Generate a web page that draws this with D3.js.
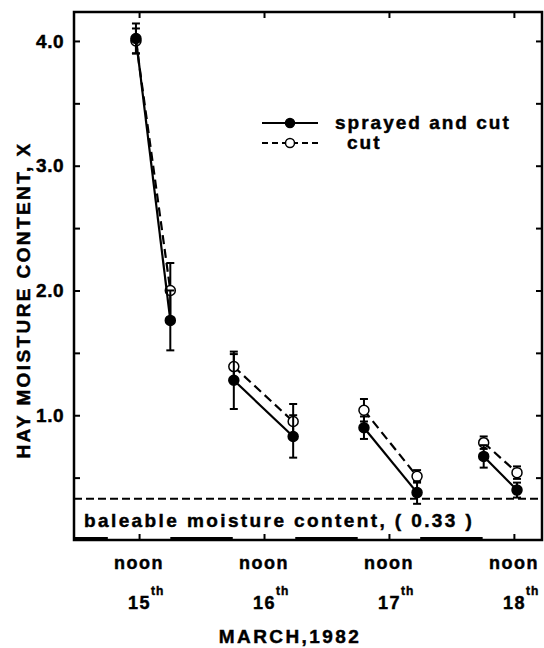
<!DOCTYPE html>
<html>
<head>
<meta charset="utf-8">
<script src="https://cdn.jsdelivr.net/npm/d3@7"></script>
<style>
  body { margin: 0; background: #fff; }
  text { font-family: "Liberation Sans", Arial, sans-serif; font-weight: bold; fill: #000; stroke: #000; stroke-width: 0.45px; }
</style>
</head>
<body>
<script>
// hours after noon, 15 March 1982
const times = [-0.6, 6.0, 18.2, 29.6, 43.2, 53.4, 66.2, 72.6];
const sprayed = [4.02, 1.76, 1.28, 0.83, 0.90, 0.38, 0.67, 0.40];
const sprayedErr = [0.12, 0.24, 0.23, 0.17, 0.09, 0.09, 0.09, 0.06];
const cut = [4.0, 2.0, 1.39, 0.95, 1.04, 0.51, 0.78, 0.54];
const cutErr = [0.10, 0.22, 0.10, 0.14, 0.09, 0.05, 0.05, 0.05];
const noons = [0, 24, 48, 72];
const dayLabels = ["15", "16", "17", "18"];
const nights = [[-18, -6], [6, 18], [30, 42], [54, 66]];
const yTicks = [1, 2, 3, 4];
const yMinor = [0.5, 1.5, 2.5, 3.5];
const baleable = 0.33;

const W = 544, H = 648;
const svg = d3.select("body").append("svg")
  .attr("width", W)
  .attr("height", H);

const x = d3.scaleLinear().domain([-12.5, 77.4]).range([74, 542]);
const y = d3.scaleLinear().domain([0, 4.232]).range([540, 12]);

// frame
svg.append("rect")
  .attr("x", x.range()[0]).attr("y", y.range()[1])
  .attr("width", x.range()[1] - x.range()[0])
  .attr("height", y.range()[0] - y.range()[1])
  .attr("fill", "none").attr("stroke", "#000").attr("stroke-width", 2.5);

// night bars along the bottom
svg.selectAll(".night")
  .data(nights)
  .join("line")
    .attr("x1", d => x(Math.max(d[0], x.domain()[0])))
    .attr("x2", d => x(Math.min(d[1], x.domain()[1])))
    .attr("y1", y(0) - 1).attr("y2", y(0) - 1)
    .attr("stroke", "#000").attr("stroke-width", 4);

// left axis
const left = svg.append("g").attr("transform", `translate(${x.range()[0]},0)`)
  .call(d3.axisLeft(y).tickValues(yTicks).tickSize(-6).tickPadding(10).tickFormat(d3.format(".1f")));
left.select(".domain").remove();
left.selectAll(".tick line").attr("stroke-width", 2);
left.selectAll("text").style("font-size", "19px").style("letter-spacing", "0.5px").attr("font-family", null);
svg.append("g").attr("transform", `translate(${x.range()[0]},0)`)
  .call(d3.axisLeft(y).tickValues(yMinor).tickSize(-6).tickFormat(""))
  .call(g => g.select(".domain").remove())
  .selectAll("line").attr("stroke-width", 2);

// right axis ticks
svg.append("g").attr("transform", `translate(${x.range()[1]},0)`)
  .call(d3.axisRight(y).tickValues(yTicks.concat(yMinor)).tickSize(-6).tickFormat(""))
  .call(g => g.select(".domain").remove())
  .selectAll("line").attr("stroke-width", 2);

// top and bottom ticks at noon
svg.append("g").attr("transform", `translate(0,${y.range()[1]})`)
  .call(d3.axisTop(x).tickValues(noons).tickSize(-6).tickFormat(""))
  .call(g => g.select(".domain").remove())
  .selectAll("line").attr("stroke-width", 2);
svg.append("g").attr("transform", `translate(0,${y.range()[0]})`)
  .call(d3.axisBottom(x).tickValues(noons).tickSize(-6).tickFormat(""))
  .call(g => g.select(".domain").remove())
  .selectAll("line").attr("stroke-width", 2);

// x labels
const xl = svg.append("g");
xl.selectAll(".noon")
  .data(noons)
  .join("text")
    .attr("x", d => x(d)).attr("y", 569)
    .attr("text-anchor", "middle")
    .style("font-size", "18px").style("letter-spacing", "1.5px")
    .text("noon");
const dl = xl.selectAll(".day")
  .data(noons)
  .join("text")
    .attr("x", d => x(d) - 11).attr("y", 609)
    .style("font-size", "18px").style("letter-spacing", "1.5px");
dl.append("tspan").text((d, i) => dayLabels[i]);
dl.append("tspan").attr("dy", -14).style("font-size", "12px").style("letter-spacing", "1px").text("th");

svg.append("text")
  .attr("x", 290).attr("y", 643)
  .attr("text-anchor", "middle")
  .style("font-size", "19px").style("letter-spacing", "2.4px")
  .text("MARCH,1982");

svg.append("text")
  .attr("transform", "translate(30,300) rotate(-90)")
  .attr("text-anchor", "middle")
  .style("font-size", "19px").style("letter-spacing", "2.4px")
  .text("HAY MOISTURE CONTENT, X");

// baleable line
svg.append("line")
  .attr("x1", x.range()[0]).attr("x2", x.range()[1])
  .attr("y1", y(baleable)).attr("y2", y(baleable))
  .attr("stroke", "#000").attr("stroke-width", 2).attr("stroke-dasharray", "8,4");
svg.append("text")
  .attr("x", 84).attr("y", 527)
  .style("font-size", "19px").style("letter-spacing", "2.4px")
  .text("baleable moisture content, ( 0.33 )");

// series
const series = [
  {vals: sprayed, err: sprayedErr, dash: null, fill: "#000"},
  {vals: cut, err: cutErr, dash: "9,5", fill: "#fff"}
];
const pairs = [[0, 1], [2, 3], [4, 5], [6, 7]];
const line = d3.line().x(i => x(times[i])).y(i => y(s.vals[i]));
let s;

// draw cut first so sprayed sits on top
series.slice().reverse().forEach(ser => {
  s = ser;
  const g = svg.append("g");
  g.selectAll(".seg")
    .data(pairs)
    .join("path")
      .attr("d", line)
      .attr("fill", "none").attr("stroke", "#000")
      .attr("stroke-width", 2.2)
      .attr("stroke-dasharray", ser.dash);
  const eb = g.selectAll(".eb")
    .data(times)
    .join("g");
  eb.append("line")
    .attr("x1", d => x(d)).attr("x2", d => x(d))
    .attr("y1", (d, i) => y(ser.vals[i] - ser.err[i]))
    .attr("y2", (d, i) => y(ser.vals[i] + ser.err[i]))
    .attr("stroke", "#000").attr("stroke-width", 2);
  [-1, 1].forEach(sg => {
    eb.append("line")
      .attr("x1", d => x(d) - 4).attr("x2", d => x(d) + 4)
      .attr("y1", (d, i) => y(ser.vals[i] + sg * ser.err[i]))
      .attr("y2", (d, i) => y(ser.vals[i] + sg * ser.err[i]))
      .attr("stroke", "#000").attr("stroke-width", 2);
  });
  g.selectAll(".pt")
    .data(times)
    .join("circle")
      .attr("cx", d => x(d))
      .attr("cy", (d, i) => y(ser.vals[i]))
      .attr("r", 5)
      .attr("fill", ser.fill).attr("stroke", "#000").attr("stroke-width", 1.5);
});

// legend
const leg = svg.append("g");
const legItems = [
  {label: "sprayed and cut", dash: null, fill: "#000", y: 123, tx: 335},
  {label: "cut", dash: "6,4", fill: "#fff", y: 143, tx: 347}
];
legItems.forEach(d => {
  leg.append("line")
    .attr("x1", 262).attr("x2", 318).attr("y1", d.y).attr("y2", d.y)
    .attr("stroke", "#000").attr("stroke-width", 2).attr("stroke-dasharray", d.dash);
  leg.append("circle")
    .attr("cx", 290).attr("cy", d.y).attr("r", 4.5)
    .attr("fill", d.fill).attr("stroke", "#000").attr("stroke-width", 1.5);
  leg.append("text")
    .attr("x", d.tx).attr("y", d.y + 6)
    .style("font-size", "19px").style("letter-spacing", "2px")
    .text(d.label);
});
</script>
</body>
</html>
